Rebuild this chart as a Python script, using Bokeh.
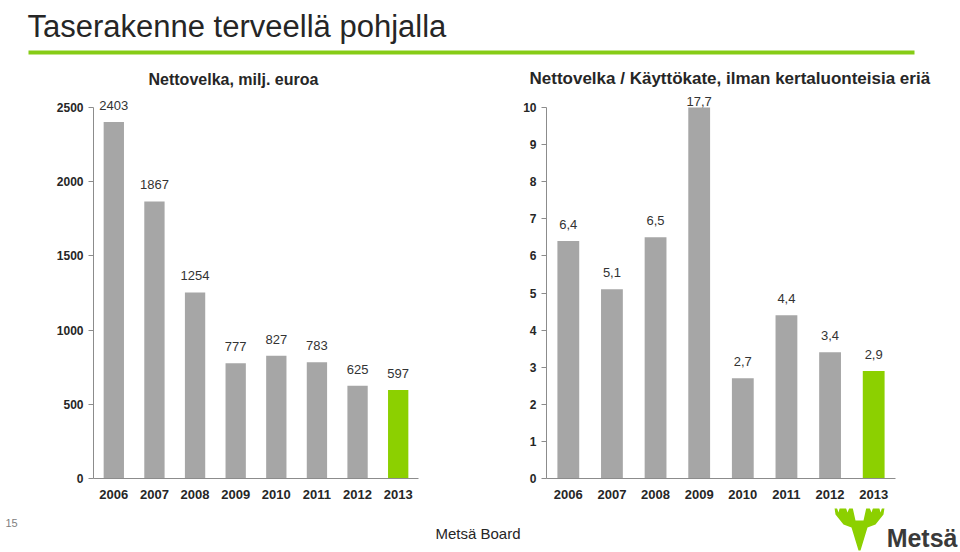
from bokeh.plotting import figure
from bokeh.models import FactorRange, Range1d, FixedTicker, ColumnDataSource, LabelSet
from bokeh.layouts import column, row
from bokeh.embed import file_html
from bokeh.resources import INLINE
from bokeh.core.properties import value

# ---- data ----
years = ["2006", "2007", "2008", "2009", "2010", "2011", "2012", "2013"]
net_debt = [2403, 1867, 1254, 777, 827, 783, 625, 597]
debt_to_ebitda = [6.4, 5.1, 6.5, 17.7, 2.7, 4.4, 3.4, 2.9]
left_ticks = [0, 500, 1000, 1500, 2000, 2500]
right_ticks = [0, 1, 2, 3, 4, 5, 6, 7, 8, 9, 10]
highlight_year = "2013"

main_title = "Taserakenne terveellä pohjalla"
left_title = "Nettovelka, milj. euroa"
right_title = "Nettovelka / Käyttökate, ilman kertaluonteisia eriä"
footer_page = "15"
footer_company = "Metsä Board"
logo_text = "Metsä"

FONT = "Liberation Sans"
GREY = "#a6a6a6"
GREEN = "#8cd000"
LINE_GREEN = "#86cc16"
AXIS = "#8c8c8c"
DARK = "#262626"

AXIS_PX = 370     # pixel height of the 0..max axis
HEAD_PX = 14      # extra frame room above the axis top for value labels


def bar_chart(vals, labels, ymax, ticks, b_left, b_right, title, tsize, toffset):
    yend = ymax * (AXIS_PX + HEAD_PX) / AXIS_PX
    p = figure(width=480, height=448, x_range=FactorRange(factors=years),
               y_range=Range1d(0, yend), toolbar_location=None,
               output_backend="svg", min_border_left=b_left,
               min_border_right=b_right, min_border_top=28,
               min_border_bottom=30)
    p.outline_line_color = None
    p.xgrid.grid_line_color = None
    p.ygrid.grid_line_color = None
    p.title.text = title
    p.title.align = "left"
    p.title.offset = toffset
    p.title.text_font = FONT
    p.title.text_font_size = tsize
    p.title.text_font_style = "bold"
    p.title.text_color = DARK
    p.title.standoff = 12

    colors = [GREEN if y == highlight_year else GREY for y in years]
    shown = [min(v, ymax) for v in vals]
    yoff = [2 if v > ymax else 12 for v in vals]
    src = ColumnDataSource(dict(x=years, top=shown, color=colors,
                                label=labels, yoff=yoff))
    p.vbar(x="x", top="top", width=0.5, fill_color="color",
           line_color=None, source=src)
    p.add_layout(LabelSet(x="x", y="top", text="label", y_offset="yoff",
                          text_align="center", text_baseline="bottom",
                          text_font=value(FONT), text_font_size="13px",
                          text_color="#333333", source=src))

    p.xaxis.axis_line_color = AXIS
    p.xaxis.major_tick_line_color = None
    p.xaxis.minor_tick_line_color = None
    p.xaxis.major_label_text_font = FONT
    p.xaxis.major_label_text_font_size = "13px"
    p.xaxis.major_label_text_font_style = "bold"
    p.xaxis.major_label_text_color = DARK
    p.xaxis.major_label_standoff = 5

    p.yaxis.ticker = FixedTicker(ticks=ticks)
    p.yaxis.bounds = (0, ymax)
    p.yaxis.axis_line_color = AXIS
    p.yaxis.major_tick_line_color = AXIS
    p.yaxis.major_tick_out = 5
    p.yaxis.major_tick_in = 0
    p.yaxis.minor_tick_line_color = None
    p.yaxis.major_label_text_font = FONT
    p.yaxis.major_label_text_font_size = "12px"
    p.yaxis.major_label_text_font_style = "bold"
    p.yaxis.major_label_text_color = DARK
    p.yaxis.major_label_standoff = 5
    return p


left_labels = [str(v) for v in net_debt]
right_labels = [f"{v:.1f}".replace(".", ",") for v in debt_to_ebitda]

p1 = bar_chart(net_debt, left_labels, 2500, left_ticks, 93, 62,
               left_title, "16px", 55)
p2 = bar_chart(debt_to_ebitda, right_labels, 10, right_ticks, 66, 65,
               right_title, "17px", -17)

# ---- header ----
hdr = figure(width=960, height=60, x_range=Range1d(0, 960), y_range=Range1d(60, 0),
             toolbar_location=None, output_backend="svg", min_border=0,
             x_axis_location=None, y_axis_location=None)
hdr.outline_line_color = None
hdr.grid.grid_line_color = None
hdr.text(x=[27], y=[26], text=[main_title], text_baseline="alphabetic",
         text_font=value(FONT), text_font_size="31px", text_color=DARK)
hdr.segment(x0=[28], y0=[52], x1=[914], y1=[52], line_width=4,
            line_color=LINE_GREEN)

# ---- footer ----
ftr = figure(width=960, height=44, x_range=Range1d(0, 960), y_range=Range1d(44, 0),
             toolbar_location=None, output_backend="svg", min_border=0,
             x_axis_location=None, y_axis_location=None)
ftr.outline_line_color = None
ftr.grid.grid_line_color = None
ftr.text(x=[5], y=[14], text=[footer_page], text_baseline="middle",
         text_font=value(FONT), text_font_size="11px", text_color="#808080")
ftr.text(x=[435], y=[25], text=[footer_company], text_baseline="middle",
         text_font=value(FONT), text_font_size="15px", text_color=DARK)
ftr.text(x=[957], y=[29], text=[logo_text], text_baseline="alphabetic",
         text_align="right", text_font=value(FONT), text_font_size="25px",
         text_font_style="bold", text_color="#3a3a3a")
moose = [(832, 494), (838, 512), (842, 497), (847, 512), (851, 502), (855, 520),
         (863, 520), (867, 502), (871, 512), (876, 497), (880, 512), (886, 494),
         (883, 514), (875, 524), (867, 527), (860, 550), (858, 550), (851, 527),
         (843, 524), (835, 514)]
ftr.patch(x=[a for a, b in moose], y=[b - 508 for a, b in moose],
          fill_color=GREEN, line_color=None)

layout = column(hdr, row(p1, p2), ftr)
open("out.html", "w").write(file_html(layout, INLINE))
